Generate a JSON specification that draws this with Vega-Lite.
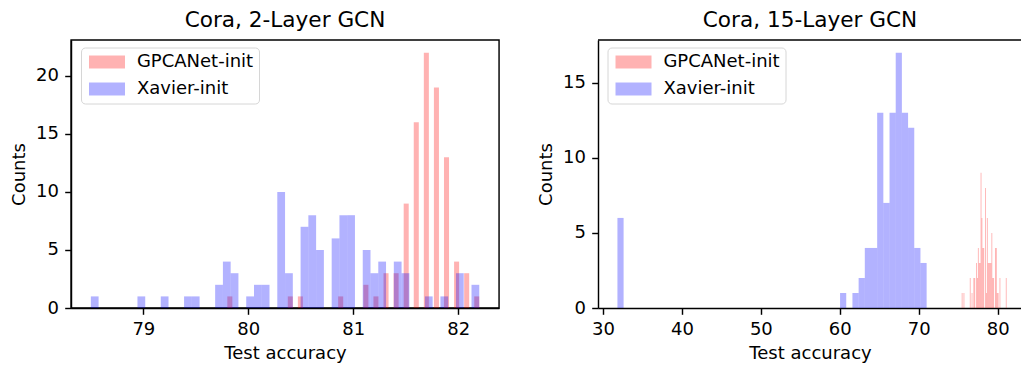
{
  "$schema": "https://vega.github.io/schema/vega-lite/v6.json",
  "padding": {"left": 9, "top": 9, "right": 0, "bottom": 0},
  "background": "white",
  "bounds": "flush",
  "spacing": 99,
  "config": {
    "font": "DejaVu Sans",
    "view": {"stroke": "#000000", "strokeWidth": 1.44},
    "axis": {"grid": false, "domainColor": "#000000", "domainWidth": 1.44, "tickColor": "#000000", "tickWidth": 1.44, "tickSize": 6.3, "labelPadding": 6.3, "labelFontSize": 18, "labelColor": "#000000", "labelFont": "DejaVu Sans", "titleFont": "DejaVu Sans", "titleFontSize": 18, "titleFontWeight": "normal", "titleColor": "#000000"},
    "axisX": {"titlePadding": 6},
    "axisY": {"titlePadding": 7},
    "title": {"fontSize": 21.6, "fontWeight": "normal", "font": "DejaVu Sans", "color": "#000000", "anchor": "middle", "offset": 8},
    "legend": {"title": null, "symbolType": "M-1,-1H4.54V1H-1Z", "symbolSize": 169, "symbolOpacity": 0.3, "symbolStrokeWidth": 0, "labelFontSize": 18, "labelFont": "DejaVu Sans", "labelColor": "#000000", "labelOffset": 32.4, "rowPadding": 9, "padding": 5.5, "strokeColor": "#d6d6d6", "strokeWidth": 1, "fillColor": "rgba(255,255,255,0.8)", "cornerRadius": 4, "labelLimit": 300}
  },
  "resolve": {"scale": {"color": "independent"}},
  "datasets": {
    "cora2": [
      {"s": "GPCANet-init", "a": 79.8, "b": 79.848, "n": 1},
      {"s": "GPCANet-init", "a": 80.376, "b": 80.424, "n": 1},
      {"s": "GPCANet-init", "a": 80.472, "b": 80.52, "n": 1},
      {"s": "GPCANet-init", "a": 80.856, "b": 80.904, "n": 1},
      {"s": "GPCANet-init", "a": 81.096, "b": 81.144, "n": 2},
      {"s": "GPCANet-init", "a": 81.192, "b": 81.24, "n": 1},
      {"s": "GPCANet-init", "a": 81.288, "b": 81.336, "n": 3},
      {"s": "GPCANet-init", "a": 81.384, "b": 81.432, "n": 3},
      {"s": "GPCANet-init", "a": 81.48, "b": 81.528, "n": 9},
      {"s": "GPCANet-init", "a": 81.576, "b": 81.624, "n": 16},
      {"s": "GPCANet-init", "a": 81.672, "b": 81.72, "n": 22},
      {"s": "GPCANet-init", "a": 81.768, "b": 81.816, "n": 19},
      {"s": "GPCANet-init", "a": 81.864, "b": 81.912, "n": 13},
      {"s": "GPCANet-init", "a": 81.96, "b": 82.008, "n": 4},
      {"s": "GPCANet-init", "a": 82.056, "b": 82.104, "n": 3},
      {"s": "GPCANet-init", "a": 82.152, "b": 82.2, "n": 1},
      {"s": "Xavier-init", "a": 78.5, "b": 78.574, "n": 1},
      {"s": "Xavier-init", "a": 78.944, "b": 79.018, "n": 1},
      {"s": "Xavier-init", "a": 79.166, "b": 79.24, "n": 1},
      {"s": "Xavier-init", "a": 79.388, "b": 79.462, "n": 1},
      {"s": "Xavier-init", "a": 79.462, "b": 79.536, "n": 1},
      {"s": "Xavier-init", "a": 79.684, "b": 79.758, "n": 2},
      {"s": "Xavier-init", "a": 79.758, "b": 79.832, "n": 4},
      {"s": "Xavier-init", "a": 79.832, "b": 79.906, "n": 3},
      {"s": "Xavier-init", "a": 79.98, "b": 80.054, "n": 1},
      {"s": "Xavier-init", "a": 80.054, "b": 80.128, "n": 2},
      {"s": "Xavier-init", "a": 80.128, "b": 80.202, "n": 2},
      {"s": "Xavier-init", "a": 80.276, "b": 80.35, "n": 10},
      {"s": "Xavier-init", "a": 80.35, "b": 80.424, "n": 3},
      {"s": "Xavier-init", "a": 80.498, "b": 80.572, "n": 7},
      {"s": "Xavier-init", "a": 80.572, "b": 80.646, "n": 8},
      {"s": "Xavier-init", "a": 80.646, "b": 80.72, "n": 5},
      {"s": "Xavier-init", "a": 80.794, "b": 80.868, "n": 6},
      {"s": "Xavier-init", "a": 80.868, "b": 80.942, "n": 8},
      {"s": "Xavier-init", "a": 80.942, "b": 81.016, "n": 8},
      {"s": "Xavier-init", "a": 81.09, "b": 81.164, "n": 5},
      {"s": "Xavier-init", "a": 81.164, "b": 81.238, "n": 3},
      {"s": "Xavier-init", "a": 81.238, "b": 81.312, "n": 4},
      {"s": "Xavier-init", "a": 81.386, "b": 81.46, "n": 4},
      {"s": "Xavier-init", "a": 81.46, "b": 81.534, "n": 3},
      {"s": "Xavier-init", "a": 81.682, "b": 81.756, "n": 1},
      {"s": "Xavier-init", "a": 81.83, "b": 81.904, "n": 1},
      {"s": "Xavier-init", "a": 81.978, "b": 82.052, "n": 3},
      {"s": "Xavier-init", "a": 82.126, "b": 82.2, "n": 2}
    ],
    "cora15": [
      {"s": "GPCANet-init", "a": 75.44, "b": 75.554, "n": 1},
      {"s": "GPCANet-init", "a": 75.668, "b": 75.782, "n": 1},
      {"s": "GPCANet-init", "a": 76.466, "b": 76.58, "n": 2},
      {"s": "GPCANet-init", "a": 76.694, "b": 76.808, "n": 1},
      {"s": "GPCANet-init", "a": 76.922, "b": 77.036, "n": 2},
      {"s": "GPCANet-init", "a": 77.036, "b": 77.15, "n": 2},
      {"s": "GPCANet-init", "a": 77.264, "b": 77.378, "n": 3},
      {"s": "GPCANet-init", "a": 77.378, "b": 77.492, "n": 2},
      {"s": "GPCANet-init", "a": 77.492, "b": 77.606, "n": 4},
      {"s": "GPCANet-init", "a": 77.606, "b": 77.72, "n": 3},
      {"s": "GPCANet-init", "a": 77.72, "b": 77.834, "n": 3},
      {"s": "GPCANet-init", "a": 77.834, "b": 77.948, "n": 9},
      {"s": "GPCANet-init", "a": 77.948, "b": 78.062, "n": 6},
      {"s": "GPCANet-init", "a": 78.062, "b": 78.176, "n": 4},
      {"s": "GPCANet-init", "a": 78.176, "b": 78.29, "n": 4},
      {"s": "GPCANet-init", "a": 78.404, "b": 78.518, "n": 8},
      {"s": "GPCANet-init", "a": 78.518, "b": 78.632, "n": 1},
      {"s": "GPCANet-init", "a": 78.632, "b": 78.746, "n": 6},
      {"s": "GPCANet-init", "a": 78.746, "b": 78.86, "n": 3},
      {"s": "GPCANet-init", "a": 78.86, "b": 78.974, "n": 3},
      {"s": "GPCANet-init", "a": 78.974, "b": 79.088, "n": 3},
      {"s": "GPCANet-init", "a": 79.088, "b": 79.202, "n": 3},
      {"s": "GPCANet-init", "a": 79.202, "b": 79.316, "n": 5},
      {"s": "GPCANet-init", "a": 79.316, "b": 79.43, "n": 2},
      {"s": "GPCANet-init", "a": 79.43, "b": 79.544, "n": 2},
      {"s": "GPCANet-init", "a": 79.658, "b": 79.772, "n": 4},
      {"s": "GPCANet-init", "a": 79.772, "b": 79.886, "n": 4},
      {"s": "GPCANet-init", "a": 79.886, "b": 80.0, "n": 1},
      {"s": "GPCANet-init", "a": 80.0, "b": 80.114, "n": 1},
      {"s": "GPCANet-init", "a": 80.228, "b": 80.342, "n": 2},
      {"s": "GPCANet-init", "a": 81.026, "b": 81.14, "n": 2},
      {"s": "Xavier-init", "a": 31.83, "b": 32.613, "n": 6},
      {"s": "Xavier-init", "a": 60.032, "b": 60.816, "n": 1},
      {"s": "Xavier-init", "a": 61.599, "b": 62.383, "n": 1},
      {"s": "Xavier-init", "a": 62.383, "b": 63.166, "n": 2},
      {"s": "Xavier-init", "a": 63.166, "b": 63.949, "n": 4},
      {"s": "Xavier-init", "a": 63.949, "b": 64.733, "n": 4},
      {"s": "Xavier-init", "a": 64.733, "b": 65.516, "n": 13},
      {"s": "Xavier-init", "a": 65.516, "b": 66.3, "n": 7},
      {"s": "Xavier-init", "a": 66.3, "b": 67.083, "n": 13},
      {"s": "Xavier-init", "a": 67.083, "b": 67.866, "n": 17},
      {"s": "Xavier-init", "a": 67.866, "b": 68.65, "n": 13},
      {"s": "Xavier-init", "a": 68.65, "b": 69.433, "n": 12},
      {"s": "Xavier-init", "a": 69.433, "b": 70.217, "n": 4},
      {"s": "Xavier-init", "a": 70.217, "b": 71.0, "n": 3}
    ]
  },
  "hconcat": [
    {
      "width": 428,
      "height": 268,
      "title": "Cora, 2-Layer GCN",
      "data": {"name": "cora2"},
      "mark": {"type": "bar", "opacity": 0.3},
      "encoding": {
        "x": {"field": "a", "type": "quantitative", "scale": {"domain": [78.311, 82.388], "nice": false, "zero": false}, "axis": {"values": [79, 80, 81, 82], "title": "Test accuracy"}},
        "x2": {"field": "b"},
        "y": {"field": "n", "type": "quantitative", "stack": null, "scale": {"domain": [0, 23.1], "nice": false}, "axis": {"values": [0, 5, 10, 15, 20], "title": "Counts"}},
        "y2": {"datum": 0},
        "color": {"field": "s", "type": "nominal", "scale": {"domain": ["GPCANet-init", "Xavier-init"], "range": ["#ff0000", "#0000ff"]}, "legend": {"orient": "none", "legendX": 10, "legendY": 7.5}}
      }
    },
    {
      "width": 424,
      "height": 268,
      "title": "Cora, 15-Layer GCN",
      "view": {"stroke": null},
      "layer": [
        {
          "data": {"name": "cora15"},
          "mark": {"type": "bar", "opacity": 0.3},
          "encoding": {
            "x": {"field": "a", "type": "quantitative", "scale": {"domain": [29.37, 83.08], "nice": false, "zero": false}, "axis": {"values": [30, 40, 50, 60, 70, 80], "title": "Test accuracy"}},
            "x2": {"field": "b"},
            "y": {"field": "n", "type": "quantitative", "stack": null, "scale": {"domain": [0, 17.85], "nice": false}, "axis": {"values": [0, 5, 10, 15], "title": "Counts"}},
            "y2": {"datum": 0},
            "color": {"field": "s", "type": "nominal", "scale": {"domain": ["GPCANet-init", "Xavier-init"], "range": ["#ff0000", "#0000ff"]}, "legend": {"orient": "none", "legendX": 9.5, "legendY": 7.5}}
          }
        },
        {
          "data": {"values": [{}]},
          "mark": {"type": "rule", "color": "#000000", "strokeWidth": 1.44},
          "encoding": {"y": {"datum": 17.85, "type": "quantitative"}}
        }
      ]
    }
  ]
}
